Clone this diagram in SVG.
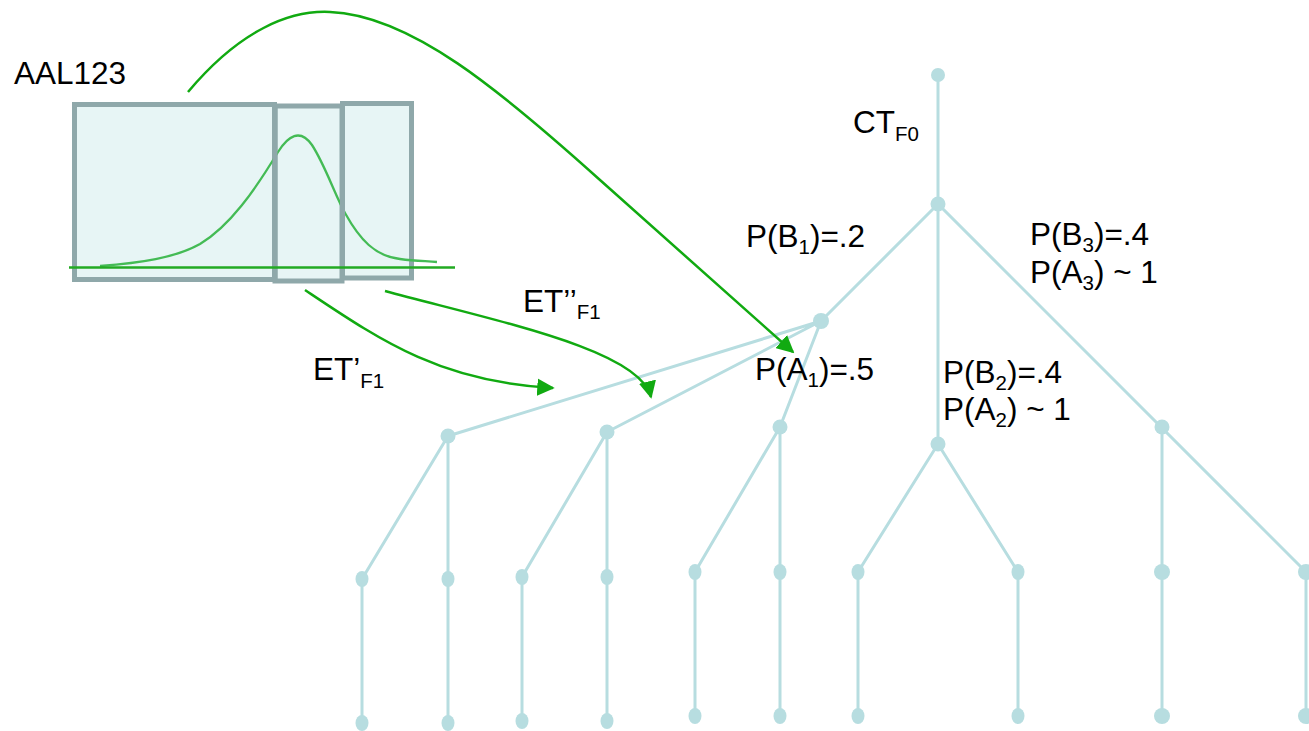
<svg xmlns="http://www.w3.org/2000/svg" width="1309" height="731" viewBox="0 0 1309 731">
<style>
.t{font-family:"Liberation Sans",Arial,sans-serif;font-size:31.5px;fill:#000}
.s{font-size:20.5px}
.e{stroke:#b7dde0;stroke-width:3;fill:none}
.n{fill:#b7dde0}
.bx{fill:#e7f5f5;stroke:#8fa8aa;stroke-width:5}
.g{stroke:#11aa11;stroke-width:2.5;fill:none}
</style>
<defs>
<marker id="ah" viewBox="0 0 10 10" refX="9" refY="5" markerWidth="7" markerHeight="7" markerUnits="strokeWidth" orient="auto">
<path d="M0,0 L10,5 L0,10 z" fill="#11aa11"/>
</marker>
</defs>
<g id="aal123">
<rect class="bx" x="74.5" y="104.5" width="200" height="175"/>
<rect class="bx" x="275" y="106" width="67" height="175"/>
<rect class="bx" x="342.5" y="103.5" width="69" height="174.5"/>
<path d="M100,266 C140,263 175,258 200,244 C230,226 255,190 278,152 C288,136 300,128 312,145 C325,165 335,195 345,213 C360,240 375,256 400,259 C415,261 425,261 437,262" fill="none" stroke="#44bb55" stroke-width="2.3"/>
<rect x="272.5" y="106" width="5" height="175" fill="#8fa8aa"/>
<rect x="340" y="104" width="5" height="176" fill="#8fa8aa"/>
<line x1="69" y1="267.5" x2="455" y2="267.5" stroke="#22aa22" stroke-width="2.5"/>
<text class="t" x="14" y="84">AAL123</text>
</g>
<g id="connectors">
<path class="e" d="M938,75 L938,204 M938,204 L821,321 M938,204 L938,444 M938,204 L1306,572 M821,321 L448,436 M821,321 L607,432 M821,321 L780,427 M448,436 L362,579 M448,436 L448,579 M607,432 L522,577 M607,432 L607,577 M780,427 L695,572 M780,427 L780,572 M938,444 L858,572 M938,444 L1018,572 M1162,427 L1162,572 M362,579 L362,723 M448,579 L448,723 M522,577 L522,721 M607,577 L607,721 M695,572 L695,716 M780,572 L780,716 M858,572 L858,716 M1018,572 L1018,716 M1162,572 L1162,716 M1306,572 L1306,716"/>
</g>
<g id="tree-nodes">
<circle class="n" cx="938" cy="75" r="7"/>
<circle class="n" cx="938" cy="204" r="7.5"/>
<circle class="n" cx="821" cy="321" r="8"/>
<circle class="n" cx="448" cy="436" r="7.5"/>
<circle class="n" cx="607" cy="432" r="7.5"/>
<circle class="n" cx="780" cy="427" r="7.5"/>
<circle class="n" cx="938" cy="444" r="7.5"/>
<circle class="n" cx="1162" cy="427" r="7.5"/>
<ellipse class="n" cx="362" cy="579" rx="6.5" ry="8"/>
<ellipse class="n" cx="448" cy="579" rx="6.5" ry="8"/>
<ellipse class="n" cx="522" cy="577" rx="6.5" ry="8"/>
<ellipse class="n" cx="607" cy="577" rx="6.5" ry="8"/>
<ellipse class="n" cx="695" cy="572" rx="6.5" ry="8"/>
<ellipse class="n" cx="780" cy="572" rx="6.5" ry="8"/>
<ellipse class="n" cx="858" cy="572" rx="6.5" ry="8"/>
<ellipse class="n" cx="1018" cy="572" rx="6.5" ry="8"/>
<circle class="n" cx="1162" cy="572" r="8"/>
<circle class="n" cx="1306" cy="572" r="8"/>
<ellipse class="n" cx="362" cy="723" rx="6.5" ry="8"/>
<ellipse class="n" cx="448" cy="723" rx="6.5" ry="8"/>
<ellipse class="n" cx="522" cy="721" rx="6.5" ry="8"/>
<ellipse class="n" cx="607" cy="721" rx="6.5" ry="8"/>
<ellipse class="n" cx="695" cy="716" rx="6.5" ry="8"/>
<ellipse class="n" cx="780" cy="716" rx="6.5" ry="8"/>
<ellipse class="n" cx="858" cy="716" rx="6.5" ry="8"/>
<ellipse class="n" cx="1018" cy="716" rx="6.5" ry="8"/>
<circle class="n" cx="1162" cy="716" r="8"/>
<circle class="n" cx="1306" cy="716" r="8"/>
</g>
<g id="labels">
<text class="t" x="853" y="133">CT<tspan class="s" dy="8">F0</tspan></text>
<text class="t" x="746" y="247">P(B<tspan class="s" dy="7">1</tspan><tspan dy="-7">)=.2</tspan></text>
<text class="t" x="1030" y="245">P(B<tspan class="s" dy="7">3</tspan><tspan dy="-7">)=.4</tspan></text>
<text class="t" x="1030" y="283">P(A<tspan class="s" dy="7">3</tspan><tspan dy="-7">) ~ 1</tspan></text>
<text class="t" x="755" y="380">P(A<tspan class="s" dy="7">1</tspan><tspan dy="-7">)=.5</tspan></text>
<text class="t" x="943" y="383">P(B<tspan class="s" dy="7">2</tspan><tspan dy="-7">)=.4</tspan></text>
<text class="t" x="943" y="420">P(A<tspan class="s" dy="7">2</tspan><tspan dy="-7">) ~ 1</tspan></text>
<text class="t" x="523" y="312">ET’’<tspan class="s" dy="7">F1</tspan></text>
<text class="t" x="313" y="380">ET’<tspan class="s" dy="8">F1</tspan></text>
</g>
<g id="arrows">
<path class="g" marker-end="url(#ah)" d="M188,92 C240,30 290,10 330,12 C410,15 500,90 600,180 L793,352"/>
<path class="g" marker-end="url(#ah)" d="M305,290 C380,340 440,382 553,388"/>
<path class="g" marker-end="url(#ah)" d="M385,291 C500,322 640,350 651,397"/>
</g>
</svg>
